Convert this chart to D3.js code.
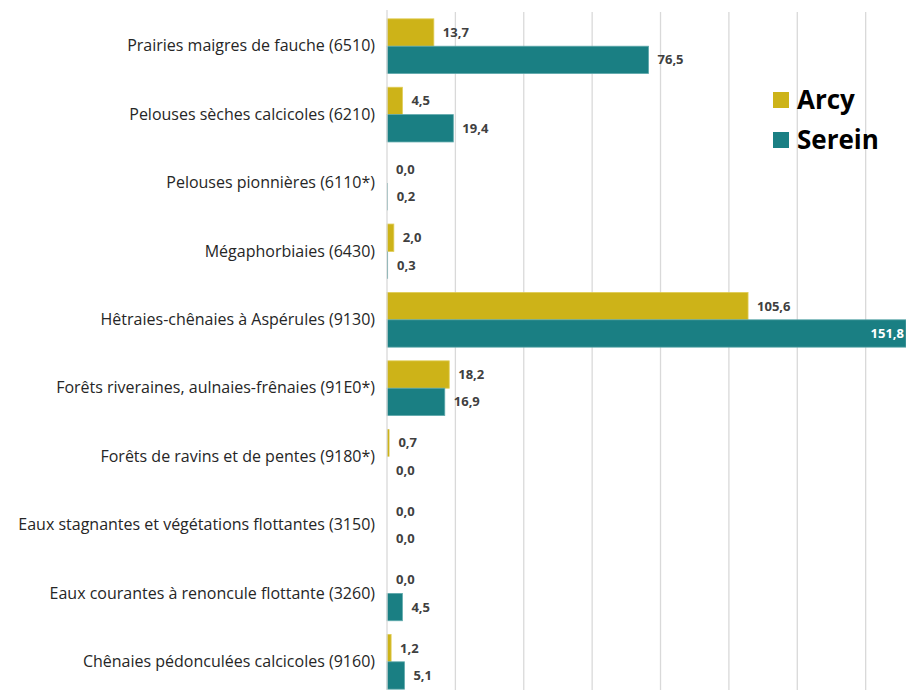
<!DOCTYPE html>
<html>
<head>
<meta charset="utf-8">
<script src="https://cdn.jsdelivr.net/npm/d3@7"></script>
<style>
  body { margin: 0; background: #fff; }
  text { font-family: "Open Sans", sans-serif; }
</style>
</head>
<body>
<script>
const width = 906;
const height = 690;

const categories = [
  "Prairies maigres de fauche (6510)",
  "Pelouses sèches calcicoles (6210)",
  "Pelouses pionnières (6110*)",
  "Mégaphorbiaies (6430)",
  "Hêtraies-chênaies à Aspérules (9130)",
  "Forêts riveraines, aulnaies-frênaies (91E0*)",
  "Forêts de ravins et de pentes (9180*)",
  "Eaux stagnantes et végétations flottantes (3150)",
  "Eaux courantes à renoncule flottante (3260)",
  "Chênaies pédonculées calcicoles (9160)"
];
const seriesNames = ["Arcy", "Serein"];
const arcy = [13.7, 4.5, 0.0, 2.0, 105.6, 18.2, 0.7, 0.0, 0.0, 1.2];
const serein = [76.5, 19.4, 0.2, 0.3, 151.8, 16.9, 0.0, 0.0, 4.5, 5.1];
const gridTicks = [0, 20, 40, 60, 80, 100, 120, 140];
const colors = ["#cdb318", "#1a7f83"];

const margin = { top: 12, left: 387 };

var svg = d3.select("body")
  .append("svg")
  .attr("width", width)
  .attr("height", height);

var x = d3.scaleLinear()
  .domain([0, 151.8])
  .range([margin.left, width]);

var y = d3.scaleBand()
  .domain(categories)
  .range([12, 696])
  .paddingInner(0.2)
  .paddingOuter(0.1);

var y1 = d3.scaleBand()
  .domain(seriesNames)
  .range([0, y.bandwidth()]);

// vertical gridlines
svg.append("g")
  .selectAll("line")
  .data(gridTicks.slice(1))
  .join("line")
  .attr("x1", d => x(d))
  .attr("x2", d => x(d))
  .attr("y1", margin.top)
  .attr("y2", height)
  .attr("stroke", "#d9d9d9")
  .attr("stroke-width", 1.3);

var rows = categories.map((c, i) => ({ cat: c, vals: [arcy[i], serein[i]] }));

var group = svg.append("g")
  .selectAll("g")
  .data(rows)
  .join("g")
  .attr("transform", d => "translate(0," + y(d.cat) + ")");

group.selectAll("rect")
  .data(d => d.vals.map((v, j) => ({ v: v, s: seriesNames[j], j: j })))
  .join("rect")
  .attr("x", x(0))
  .attr("y", d => y1(d.s))
  .attr("width", d => x(d.v) - x(0))
  .attr("height", y1.bandwidth())
  .attr("fill", d => colors[d.j])
  .attr("stroke", d => x(d.v) - x(0) > 3 ? (d.j ? "#5fa9ac" : "#e0cc55") : "none")
  .attr("stroke-width", 0.8);

var fmt = v => d3.format(".1f")(v).replace(".", ",");

group.selectAll("text.val")
  .data(d => d.vals.map((v, j) => ({ v: v, s: seriesNames[j], j: j })))
  .join("text")
  .attr("class", "val")
  .attr("x", d => x(d.v) > width - 40 ? x(d.v) - 2 : x(d.v) + 9)
  .attr("y", d => y1(d.s) + y1.bandwidth() / 2)
  .attr("dy", "0.35em")
  .attr("text-anchor", d => x(d.v) > width - 40 ? "end" : "start")
  .attr("font-size", 13)
  .attr("font-weight", "bold")
  .attr("fill", d => x(d.v) > width - 40 ? "#fff" : "#404040")
  .text(d => fmt(d.v));

// category axis
var yAxis = svg.append("g")
  .attr("transform", "translate(" + margin.left + ",0)")
  .call(d3.axisLeft(y).tickSize(0).tickPadding(12));
yAxis.select(".domain")
  .attr("stroke", "#d9d9d9")
  .attr("stroke-width", 1.3)
  .attr("d", "M0," + (margin.top - 2) + "V" + height);
yAxis.selectAll("text")
  .attr("font-family", "'Open Sans', sans-serif")
  .attr("font-size", 16)
  .attr("fill", "#262626");

// legend
var legend = svg.append("g")
  .selectAll("g")
  .data(seriesNames)
  .join("g")
  .attr("transform", (d, i) => "translate(773," + (92 + i * 40) + ")");
legend.append("rect")
  .attr("width", 16)
  .attr("height", 16)
  .attr("fill", (d, i) => colors[i]);
legend.append("text")
  .attr("x", 24)
  .attr("y", 8)
  .attr("dy", "0.35em")
  .attr("font-size", 26)
  .attr("font-weight", "bold")
  .attr("fill", "#000")
  .text(d => d);
</script>
</body>
</html>
